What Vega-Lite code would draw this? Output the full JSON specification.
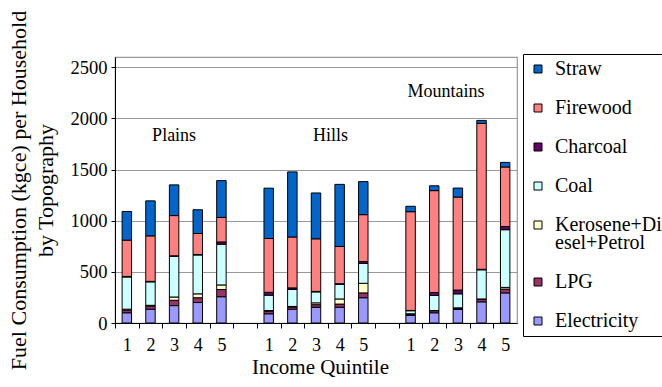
{
  "$schema": "https://vega.github.io/schema/vega-lite/v6.json",
  "width": 402,
  "height": 266,
  "autosize": {"type": "none"},
  "padding": {"left": 115, "top": 57, "right": 145, "bottom": 64},
  "config": {
    "font": "Liberation Serif",
    "style": {
      "guide-label": {"font": "Liberation Serif", "fill": "black", "lineHeight": 18},
      "guide-title": {"font": "Liberation Serif", "fill": "black"}
    },
    "view": {"stroke": "#999999", "strokeWidth": 1.2},
    "axis": {"labelColor": "black", "titleColor": "black", "titleFontWeight": "normal", "domainColor": "black", "tickColor": "black", "titleFont": "Liberation Serif", "labelFont": "Liberation Serif"}
  },
  "datasets": {
    "bars": [
      {"s": "P1", "Electricity": 100, "LPG": 25, "Kerosene+Diesel+Petrol": 10, "Coal": 315, "Charcoal": 5, "Firewood": 355, "Straw": 280},
      {"s": "P2", "Electricity": 135, "LPG": 30, "Kerosene+Diesel+Petrol": 8, "Coal": 229, "Charcoal": 5, "Firewood": 445, "Straw": 342},
      {"s": "P3", "Electricity": 170, "LPG": 52, "Kerosene+Diesel+Petrol": 32, "Coal": 398, "Charcoal": 5, "Firewood": 393, "Straw": 300},
      {"s": "P4", "Electricity": 200, "LPG": 47, "Kerosene+Diesel+Petrol": 38, "Coal": 380, "Charcoal": 5, "Firewood": 205, "Straw": 232},
      {"s": "P5", "Electricity": 257, "LPG": 70, "Kerosene+Diesel+Petrol": 45, "Coal": 398, "Charcoal": 22, "Firewood": 240, "Straw": 360},
      {"s": "H1", "Electricity": 90, "LPG": 25, "Kerosene+Diesel+Petrol": 7, "Coal": 150, "Charcoal": 28, "Firewood": 526, "Straw": 492},
      {"s": "H2", "Electricity": 135, "LPG": 22, "Kerosene+Diesel+Petrol": 5, "Coal": 166, "Charcoal": 15, "Firewood": 498, "Straw": 636},
      {"s": "H3", "Electricity": 154, "LPG": 25, "Kerosene+Diesel+Petrol": 18, "Coal": 107, "Charcoal": 5, "Firewood": 514, "Straw": 448},
      {"s": "H4", "Electricity": 154, "LPG": 31, "Kerosene+Diesel+Petrol": 50, "Coal": 144, "Charcoal": 5, "Firewood": 364, "Straw": 607},
      {"s": "H5", "Electricity": 247, "LPG": 47, "Kerosene+Diesel+Petrol": 94, "Coal": 195, "Charcoal": 18, "Firewood": 458, "Straw": 323},
      {"s": "M1", "Electricity": 75, "LPG": 10, "Kerosene+Diesel+Petrol": 5, "Coal": 30, "Charcoal": 3, "Firewood": 965, "Straw": 53},
      {"s": "M2", "Electricity": 100, "LPG": 20, "Kerosene+Diesel+Petrol": 2, "Coal": 148, "Charcoal": 28, "Firewood": 996, "Straw": 47},
      {"s": "M3", "Electricity": 132, "LPG": 14, "Kerosene+Diesel+Petrol": 2, "Coal": 137, "Charcoal": 37, "Firewood": 909, "Straw": 88},
      {"s": "M4", "Electricity": 207, "LPG": 25, "Kerosene+Diesel+Petrol": 3, "Coal": 285, "Charcoal": 5, "Firewood": 1427, "Straw": 28},
      {"s": "M5", "Electricity": 294, "LPG": 38, "Kerosene+Diesel+Petrol": 16, "Coal": 564, "Charcoal": 31, "Firewood": 582, "Straw": 45}
    ],
    "fuels": [
      {"f": "Electricity", "k": 1},
      {"f": "LPG", "k": 2},
      {"f": "Kerosene+Diesel+Petrol", "k": 3},
      {"f": "Coal", "k": 4},
      {"f": "Charcoal", "k": 5},
      {"f": "Firewood", "k": 6},
      {"f": "Straw", "k": 7}
    ]
  },
  "layer": [
    {
      "data": {"name": "bars"},
      "transform": [
        {"fold": ["Electricity", "LPG", "Kerosene+Diesel+Petrol", "Coal", "Charcoal", "Firewood", "Straw"], "as": ["f", "v"]},
        {"lookup": "f", "from": {"data": {"name": "fuels"}, "key": "f", "fields": ["k"]}}
      ],
      "mark": {"type": "bar", "stroke": "black", "strokeWidth": 1},
      "encoding": {
        "x": {
          "field": "s", "type": "nominal",
          "scale": {"domain": ["P1", "P2", "P3", "P4", "P5", "g1", "H1", "H2", "H3", "H4", "H5", "g2", "M1", "M2", "M3", "M4", "M5"], "paddingInner": 0.6, "paddingOuter": 0.3},
          "axis": {
            "title": "Income Quintile",
            "labelExpr": "indexof(datum.value, 'g') == 0 ? '' : substring(datum.value, 1)",
            "labelFont": "Liberation Serif", "titleFont": "Liberation Serif",
            "labelAngle": 0, "tickOffset": -11.82, "labelOffset": 11.82, "tickSize": 5,
            "labelFontSize": 18, "labelPadding": 8, "titleFontSize": 21,
            "titleX": 205, "titleY": 50, "titleBaseline": "alphabetic", "titleAlign": "center", "grid": false
          }
        },
        "y": {
          "field": "v", "type": "quantitative", "stack": "zero",
          "scale": {"domain": [0, 2500]},
          "axis": {
            "title": ["Fuel Consumption (kgce) per Household", "by Topography"],
            "format": "d",
            "labelFont": "Liberation Serif", "titleFont": "Liberation Serif",
            "values": [0, 500, 1000, 1500, 2000, 2500],
            "grid": true, "gridColor": "#999999", "tickSize": 4, "labelPadding": 4, "labelFontSize": 18.5,
            "titleFontSize": 22, "titleLineHeight": 27, "titleX": -97, "titleY": 133, "titleAngle": -90,
            "titleBaseline": "middle", "titleAlign": "center"
          }
        },
        "color": {
          "field": "f", "type": "nominal",
          "scale": {
            "domain": ["Straw", "Firewood", "Charcoal", "Coal", "Kerosene+Diesel+Petrol", "LPG", "Electricity"],
            "range": ["#0066CC", "#FF8080", "#660066", "#CCFFFF", "#FFFFCC", "#993366", "#9999FF"]
          },
          "legend": {
            "orient": "none", "legendX": 408, "legendY": -3, "title": null,
            "strokeColor": "black", "fillColor": "white", "padding": 5, "rowPadding": 19,
            "labelFontSize": 20, "labelFont": "Liberation Serif", "labelColor": "black", "labelLimit": 200, "labelOffset": 7,
            "symbolType": "square", "symbolSize": 64, "symbolStrokeColor": "black", "symbolStrokeWidth": 1, "symbolOpacity": 1,
            "labelExpr": "datum.label == 'Kerosene+Diesel+Petrol' ? ['Kerosene+Di', 'esel+Petrol'] : datum.label"
          }
        },
        "order": {"field": "k", "type": "quantitative", "sort": "ascending"}
      }
    },
    {
      "data": {"values": [{"s": "P3", "v": 1775, "t": "Plains"}]},
      "mark": {"type": "text", "fontSize": 18, "font": "Liberation Serif", "color": "black", "align": "center", "baseline": "alphabetic"},
      "encoding": {
        "x": {"field": "s", "type": "nominal"},
        "y": {"field": "v", "type": "quantitative"},
        "text": {"field": "t"}
      }
    },
    {
      "data": {"values": [{"s": "H3", "v": 1775, "t": "Hills"}, {"s": "M1", "v": 2206, "t": "Mountains"}]},
      "mark": {"type": "text", "fontSize": 18, "font": "Liberation Serif", "color": "black", "align": "left", "baseline": "alphabetic", "dx": -3},
      "encoding": {
        "x": {"field": "s", "type": "nominal"},
        "y": {"field": "v", "type": "quantitative"},
        "text": {"field": "t"}
      }
    }
  ]
}
